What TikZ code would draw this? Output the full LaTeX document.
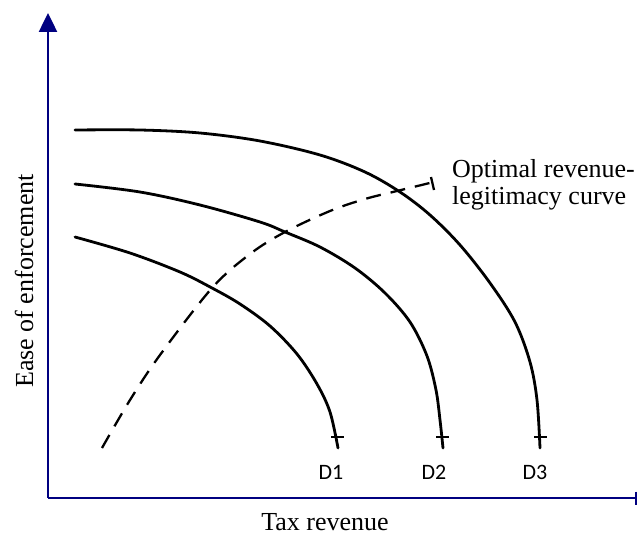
\documentclass[tikz,border=0pt]{standalone}
\usepackage{fontspec}
\setmainfont{Liberation Serif}
\newfontfamily\dlabelfont{Carlito}
\usetikzlibrary{arrows.meta}
\definecolor{axisblue}{RGB}{0,0,128}
\tikzset{
  axisline/.style={draw=axisblue, line width=2.5pt},
  curveline/.style={draw=black, line width=2.8pt, line cap=round, line join=round},
  dashline/.style={draw=black, line width=2.3pt, dash pattern=on 15pt off 10pt},
  tickline/.style={draw=black, line width=2.3pt},
  axislabel/.style={font=\fontsize{26}{30}\selectfont, inner sep=0pt},
  dlabel/.style={font=\dlabelfont\fontsize{22}{26}\selectfont, inner sep=0pt, anchor=base},
}
\begin{document}
\begin{tikzpicture}[x=1pt, y=-1pt]
\useasboundingbox (0,0) rectangle (639,537);
% axes
\coordinate (O) at (48,498);
\coordinate (ytop) at (48,13);
\coordinate (xend) at (637,498);
\draw[axisline, -{Triangle[length=19pt,width=18pt]}] (O) -- (ytop);
\draw[axisline, -{Bar[width=13pt]}] (O) -- (xend);
% D3
\draw[curveline] plot[smooth, tension=0.55] coordinates {(75,130) (140,130) (200,133) (260,141) (320,155) (365,172) (400,192) (430,215) (460,245) (490,283) (515,322) (530,362) (537,400) (540,448)};
% D2
\draw[curveline] plot[smooth, tension=0.55] coordinates {(75,184) (140,192) (200,205) (260,222) (285,232) (320,247) (355,268) (385,293) (410,322) (427,356) (436,390) (440,420) (443,448)};
% D1
\draw[curveline] plot[smooth, tension=0.55] coordinates {(75,237) (130,253) (180,272) (212,288) (240,304) (270,326) (297,354) (317,384) (330,412) (338,448)};
% end ticks
\coordinate (t1a) at (331,437); \coordinate (t1b) at (344,437);
\coordinate (t2a) at (436,437); \coordinate (t2b) at (449,437);
\coordinate (t3a) at (534,437); \coordinate (t3b) at (547,437);
\draw[tickline] (t1a) -- (t1b);
\draw[tickline] (t2a) -- (t2b);
\draw[tickline] (t3a) -- (t3b);
% dashed optimal curve
\draw[dashline] plot[smooth, tension=0.55] coordinates {(102,448) (130,400) (160,355) (212,288) (250,254) (285,232) (330,211) (365,199) (397,191) (438,181)};
\coordinate (dta) at (431,177); \coordinate (dtb) at (434,190);
\draw[tickline] (dta) -- (dtb);
% labels
\node[dlabel] (d1) at (331,479) {D1};
\node[dlabel] (d2) at (434,479) {D2};
\node[dlabel] (d3) at (535,479) {D3};
\node[axislabel, anchor=base] (xl) at (325,530) {Tax revenue};
\node[axislabel, anchor=base, rotate=90] (yl) at (33,281) {Ease of enforcement};
\node[axislabel, anchor=base west] (opt1) at (452,178) {Optimal revenue-};
\node[axislabel, anchor=base west] (opt2) at (452,205) {legitimacy curve};
\end{tikzpicture}
\end{document}
